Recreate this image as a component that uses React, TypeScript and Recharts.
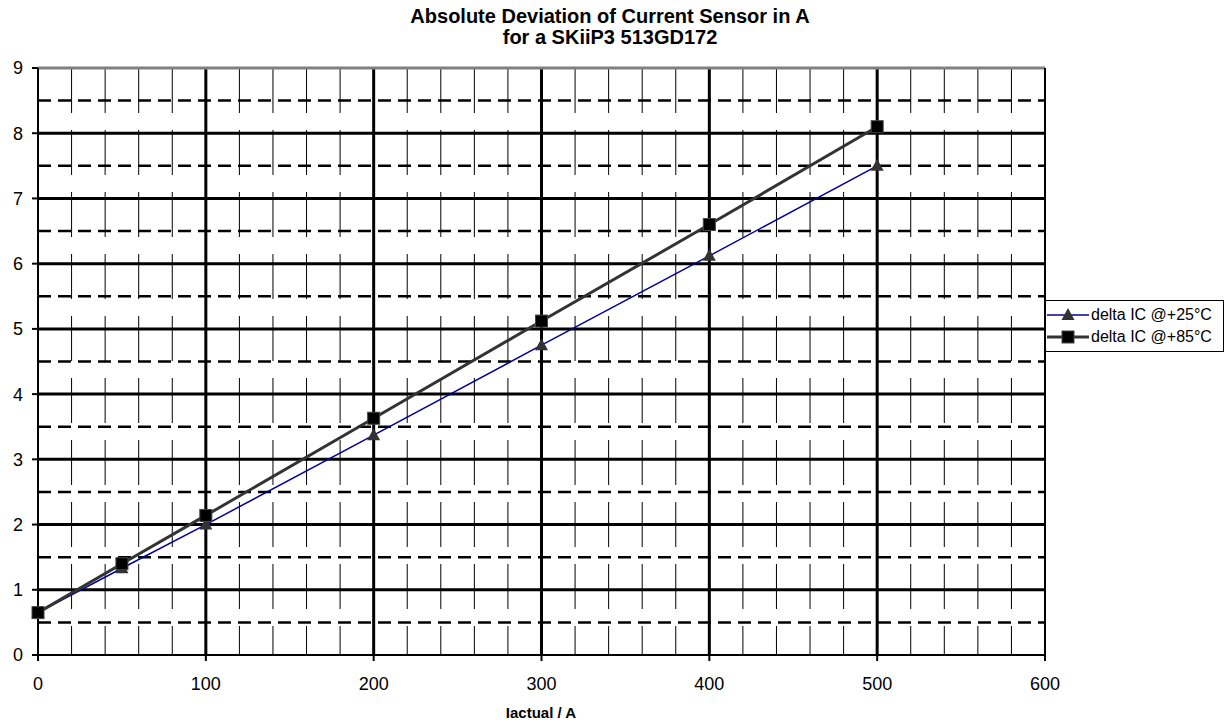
import { LineChart, Line, XAxis, YAxis, ReferenceLine } from "recharts";

// Iactual in A
const currents = [0, 50, 100, 200, 300, 400, 500];
// absolute deviation in A
const dev25 = [0.65, 1.33, 2.0, 3.37, 4.75, 6.12, 7.5];
const dev85 = [0.65, 1.4, 2.14, 3.63, 5.12, 6.6, 8.1];

const seriesNames = ["delta IC @+25°C", "delta IC @+85°C"];

const xTicks = [0, 100, 200, 300, 400, 500, 600];
const yTicks = [0, 1, 2, 3, 4, 5, 6, 7, 8, 9];
const majorX = [100, 200, 300, 400, 500];
const majorY = [1, 2, 3, 4, 5, 6, 7, 8];
const minorX = [20, 40, 60, 80, 120, 140, 160, 180, 220, 240, 260, 280, 320, 340, 360, 380, 420, 440, 460, 480, 520, 540, 560, 580];
const minorY = [0.5, 1.5, 2.5, 3.5, 4.5, 5.5, 6.5, 7.5, 8.5];

const rows = currents.map((x, i) => ({ x, d25: dev25[i], d85: dev85[i] }));

const font = "'Liberation Sans', Arial, sans-serif";

function Triangle(props: any) {
  const { cx, cy } = props;
  if (cx == null || cy == null) return null;
  return <path d={`M${cx},${cy - 7} L${cx + 6.5},${cy + 5} L${cx - 6.5},${cy + 5} Z`} fill="#333" />;
}

function Square(props: any) {
  const { cx, cy } = props;
  if (cx == null || cy == null) return null;
  return <rect x={cx - 6} y={cy - 6} width={12} height={12} fill="#000" stroke="#444" strokeWidth={1} />;
}

export default function App() {
  return (
    <div style={{ position: "absolute", left: 0, top: 0, width: 1226, height: 722, background: "#fff", fontFamily: font }}>
      <div style={{ position: "absolute", left: 0, top: 6, width: 1220, textAlign: "center", fontWeight: "bold", fontSize: 20, lineHeight: "21px" }}>
        Absolute Deviation of Current Sensor in A
        <br />
        for a SKiiP3 513GD172
      </div>
      <LineChart width={1226} height={722} data={rows} margin={{ top: 68, right: 181, bottom: 0, left: 0 }}>
        <XAxis
          dataKey="x"
          type="number"
          domain={[0, 600]}
          ticks={xTicks}
          height={67}
          tickSize={6}
          tickMargin={16}
          stroke="#000"
          strokeWidth={2}
          tick={{ fill: "#000", fontSize: 18, fontFamily: font }}
        />
        <YAxis
          type="number"
          domain={[0, 9]}
          ticks={yTicks}
          width={38}
          tickSize={6}
          tickMargin={9}
          stroke="#000"
          strokeWidth={2}
          tick={{ fill: "#000", fontSize: 18, fontFamily: font }}
        />
        {minorX.map((v) => (
          <ReferenceLine key={"mx" + v} segment={[{ x: v, y: 9 }, { x: v, y: 0 }]} stroke="#000" strokeWidth={1} strokeDasharray="45 17" />
        ))}
        {minorY.map((v) => (
          <ReferenceLine key={"my" + v} segment={[{ x: 0, y: v }, { x: 600, y: v }]} stroke="#000" strokeWidth={2.5} strokeDasharray="13 7" />
        ))}
        {majorY.map((v) => (
          <ReferenceLine key={"My" + v} y={v} stroke="#000" strokeWidth={3} />
        ))}
        {majorX.map((v) => (
          <ReferenceLine key={"Mx" + v} x={v} stroke="#000" strokeWidth={3} />
        ))}
        <ReferenceLine y={9} stroke="#808080" strokeWidth={3} />
        <ReferenceLine x={600} stroke="#000" strokeWidth={2} />
        <Line dataKey="d25" name={seriesNames[0]} stroke="#000099" strokeWidth={1.5} dot={<Triangle />} isAnimationActive={false} />
        <Line dataKey="d85" name={seriesNames[1]} stroke="#333" strokeWidth={3} dot={<Square />} isAnimationActive={false} />
      </LineChart>
      <div style={{ position: "absolute", left: 0, top: 704, width: 1082, textAlign: "center", fontWeight: "bold", fontSize: 15 }}>
        Iactual / A
      </div>
      <div style={{ position: "absolute", left: 1045, top: 300, width: 177, height: 50, border: "1px solid #000", background: "#fff", fontSize: 16 }}>
        {seriesNames.map((name, i) => (
          <div key={name} style={{ position: "absolute", left: 0, top: 4 + i * 22, height: 20, display: "flex", alignItems: "center" }}>
            <svg width={44} height={20}>
              <line x1={1} y1={10} x2={43} y2={10} stroke={i === 0 ? "#000099" : "#333"} strokeWidth={i === 0 ? 1.5 : 3} />
              {i === 0 ? <Triangle cx={22} cy={10} /> : <Square cx={22} cy={10} />}
            </svg>
            <span style={{ marginLeft: 1, whiteSpace: "nowrap" }}>{name}</span>
          </div>
        ))}
      </div>
    </div>
  );
}
